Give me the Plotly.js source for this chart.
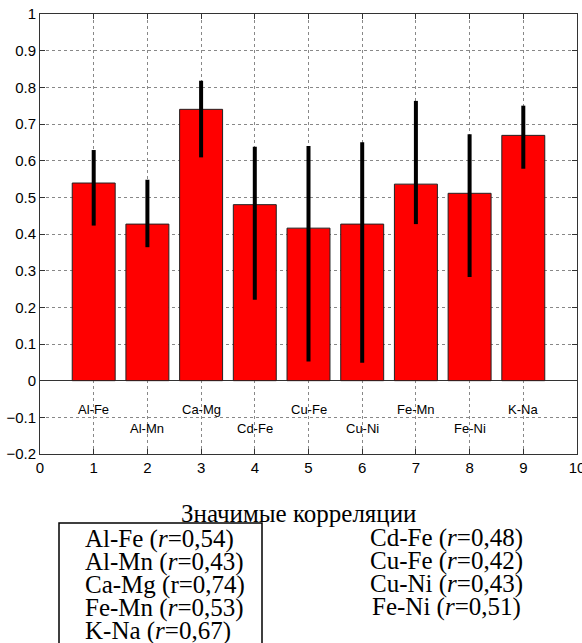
<!DOCTYPE html>
<html>
<head>
<meta charset="utf-8">
<script src="https://cdn.plot.ly/plotly-3.0.1.min.js"></script>
<style>html,body{margin:0;padding:0;background:#fff;}#chart{width:582px;height:643px;}</style>
</head>
<body>
<div id="chart"></div>
<script>
var pairs = ["Al-Fe","Al-Mn","Ca-Mg","Cd-Fe","Cu-Fe","Cu-Ni","Fe-Mn","Fe-Ni","K-Na"];
var positions = [1,2,3,4,5,6,7,8,9];
var values = [0.539,0.427,0.740,0.480,0.416,0.427,0.536,0.511,0.669];
var upper = [0.629,0.548,0.818,0.638,0.640,0.650,0.763,0.672,0.750];
var lower = [0.423,0.364,0.609,0.221,0.052,0.049,0.427,0.283,0.578];
var legendTitle = "Значимые корреляции";
var leftItems = ["Al-Fe (<i>r</i>=0,54)","Al-Mn (<i>r</i>=0,43)","Ca-Mg (r=0,74)","Fe-Mn (<i>r</i>=0,53)","K-Na (<i>r</i>=0,67)"];
var rightItems = ["Cd-Fe (<i>r</i>=0,48)","Cu-Fe (<i>r</i>=0,42)","Cu-Ni (<i>r</i>=0,43)","Fe-Ni (<i>r</i>=0,51)"];

var errPlus = values.map(function(v,i){return upper[i]-v;});
var errMinus = values.map(function(v,i){return v-lower[i];});

var trace = {
  type:'bar', x:positions, y:values, width:0.8,
  marker:{color:'#ff0000', line:{color:'#222', width:1}},
  error_y:{type:'data', array:errPlus, arrayminus:errMinus, symmetric:false, color:'#000', thickness:4, width:0},
  hoverinfo:'skip'
};

var L=40, R=5, T=14, B=189, W=582, H=643;
var pw = W-L-R, ph = H-T-B;
function px2x(px){return (px-L)/pw;}
function py2y(py){return (H-B-py)/ph;}

var sans = "Liberation Sans";
var serif = "Liberation Serif";

var annotations = [];
pairs.forEach(function(p,i){
  annotations.push({x:positions[i], y:(i%2===0)?-0.078:-0.13, xref:'x', yref:'y', text:p, showarrow:false,
    font:{family:sans, size:13, color:'#000'}, xanchor:'center', yanchor:'middle'});
});
annotations.push({x:px2x(299), y:py2y(513), xref:'paper', yref:'paper', text:legendTitle, showarrow:false,
  font:{family:serif, size:25, color:'#000'}, xanchor:'center', yanchor:'middle'});
leftItems.forEach(function(t,i){
  annotations.push({x:px2x(83), y:py2y(539+i*23), xref:'paper', yref:'paper', text:t, showarrow:false,
    font:{family:serif, size:25, color:'#000'}, xanchor:'left', yanchor:'middle'});
});
rightItems.forEach(function(t,i){
  annotations.push({x:px2x(446), y:py2y(538+i*23), xref:'paper', yref:'paper', text:t, showarrow:false,
    font:{family:serif, size:25, color:'#000'}, xanchor:'center', yanchor:'middle'});
});

var axisFont = {family:sans, size:15, color:'#000'};
var layout = {
  width:W, height:H,
  margin:{l:L, r:R, t:T, b:B, pad:0},
  paper_bgcolor:'#fff', plot_bgcolor:'#fff',
  font:{family:sans},
  showlegend:false,
  xaxis:{range:[0,10], dtick:1, tick0:0, ticks:'inside', ticklen:5, tickcolor:'#333', mirror:'allticks',
    showline:true, linecolor:'#333', linewidth:1, showgrid:true, gridcolor:'#888', griddash:'dot', gridwidth:1,
    zeroline:false, tickfont:axisFont, ticklabeloverflow:'allow', fixedrange:true},
  yaxis:{range:[-0.2,1], dtick:0.1, tick0:0, ticks:'inside', ticklen:5, tickcolor:'#333', mirror:'allticks',
    showline:true, linecolor:'#333', linewidth:1, showgrid:true, gridcolor:'#888', griddash:'dot', gridwidth:1,
    zeroline:true, zerolinecolor:'#333', zerolinewidth:1, tickfont:axisFont, fixedrange:true},
  annotations:annotations,
  shapes:[{type:'rect', xref:'paper', yref:'paper', x0:px2x(59), x1:px2x(262), y0:py2y(523), y1:py2y(660),
    line:{color:'#000', width:1.5}, fillcolor:'rgba(0,0,0,0)'}]
};
Plotly.newPlot('chart',[trace],layout,{displayModeBar:false, staticPlot:true});
</script>
</body>
</html>
